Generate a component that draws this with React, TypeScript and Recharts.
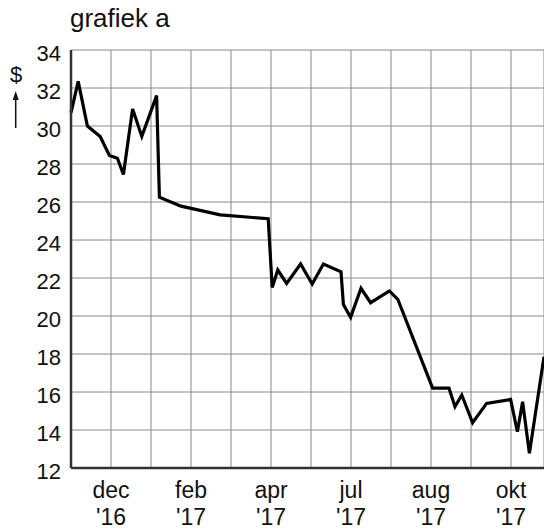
import { LineChart, Line, XAxis, YAxis, CartesianGrid } from "recharts";

// position along the time axis, in grid cells (one cell per vertical line)
const positions = [
  0, 0.18, 0.41, 0.73, 0.96, 1.16, 1.31, 1.54, 1.77, 2.14, 2.21, 2.75, 3.73,
  4.93, 5.03, 5.17, 5.39, 5.74, 6.03, 6.31, 6.75, 6.81, 6.99, 7.25, 7.49,
  7.96, 8.17, 9.04, 9.45, 9.6, 9.77, 10.04, 10.39, 10.99, 11.16, 11.29, 11.46,
  11.825,
];

const prices = [
  30.7, 32.35, 30.0, 29.45, 28.45, 28.3, 27.45, 30.9, 29.45, 31.6, 26.25,
  25.78, 25.32, 25.12, 21.5, 22.42, 21.72, 22.74, 21.68, 22.74, 22.33, 20.6,
  19.93, 21.46, 20.7, 21.32, 20.88, 16.2, 16.2, 15.23, 15.84, 14.38, 15.4,
  15.61, 13.91, 15.49, 12.77, 17.86,
];

const gridTicks = [0, 1, 2, 3, 4, 5, 6, 7, 8, 9, 10, 11];
const labelTicks = [1, 3, 5, 7, 9, 11];
const tickMonths = ["dec", "feb", "apr", "jul", "aug", "okt"];
const tickYears = ["'16", "'17", "'17", "'17", "'17", "'17"];
const yTicks = [12, 14, 16, 18, 20, 22, 24, 26, 28, 30, 32, 34];

const data = positions.map((t, i) => ({ t, price: prices[i] }));

const FONT = '"Liberation Sans", Arial, Helvetica, sans-serif';

function MonthTick(props: any) {
  const { x, y, payload } = props;
  const idx = labelTicks.indexOf(payload.value);
  if (idx < 0) return null;
  return (
    <g>
      <text x={x} y={y + 22} textAnchor="middle" fontSize={23} fill="#111" fontFamily={FONT}>
        {tickMonths[idx]}
      </text>
      <text x={x} y={y + 49} textAnchor="middle" fontSize={23} fill="#111" fontFamily={FONT}>
        {tickYears[idx]}
      </text>
    </g>
  );
}

function PriceTick(props: any) {
  const { x, y, payload } = props;
  return (
    <text x={x} y={y + 10.5} textAnchor="end" fontSize={22} fill="#111" fontFamily={FONT}>
      {payload.value}
    </text>
  );
}

export default function App() {
  return (
    <div style={{ position: "absolute", left: 0, top: 0, width: 544, height: 532, fontFamily: FONT }}>
      <LineChart
        width={544}
        height={532}
        data={data}
        margin={{ top: 50, right: 0, bottom: 0, left: 0 }}
      >
        <CartesianGrid stroke="#888" strokeWidth={1} />
        <XAxis
          dataKey="t"
          type="number"
          domain={[0, 11.825]}
          ticks={gridTicks}
          interval={0}
          height={64}
          tickLine={false}
          axisLine={{ stroke: "#333", strokeWidth: 2.5 }}
          tick={<MonthTick />}
        />
        <YAxis
          type="number"
          domain={[12, 34]}
          ticks={yTicks}
          interval={0}
          width={71}
          tickLine={false}
          tickMargin={4}
          axisLine={{ stroke: "#333", strokeWidth: 2.5 }}
          tick={<PriceTick />}
        />
        <Line
          dataKey="price"
          type="linear"
          stroke="#000"
          strokeWidth={3.2}
          dot={false}
          isAnimationActive={false}
        />
      </LineChart>
      <svg
        width={544}
        height={532}
        style={{ position: "absolute", left: 0, top: 0, pointerEvents: "none" }}
      >
        <text x={70} y={27} fontSize={26} fill="#111" fontFamily={FONT}>
          grafiek a
        </text>
        <text x={16} y={82} fontSize={22} fill="#111" textAnchor="middle" fontFamily={FONT}>
          $
        </text>
        <line x1={15.7} y1={128} x2={15.7} y2={98} stroke="#111" strokeWidth={1.5} />
        <path d="M15.7 91 L12.7 100 L18.7 100 Z" fill="#111" />
      </svg>
    </div>
  );
}
